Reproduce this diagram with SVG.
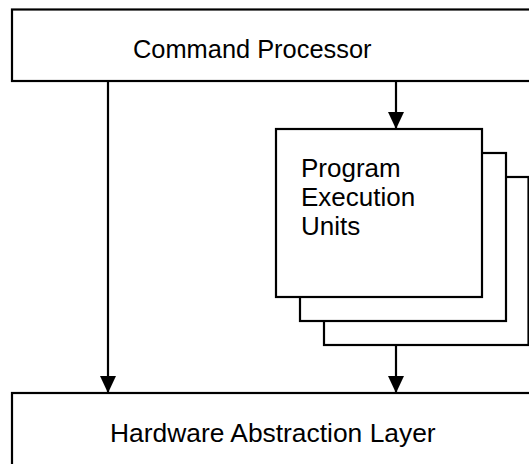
<svg xmlns="http://www.w3.org/2000/svg" width="529" height="464" viewBox="0 0 529 464">
<style>
.box{fill:#fff;stroke:#000;stroke-width:2.2}
.t{font-family:"Liberation Sans",Arial,sans-serif;font-size:26px;fill:#000}
.c{stroke:#000;stroke-width:2.2;fill:none}
</style>
<defs>
<marker id="ah" markerWidth="17" markerHeight="16" refX="17" refY="8" orient="auto" markerUnits="userSpaceOnUse" viewBox="0 0 17 16">
<path d="M0,0 L17,8 L0,16 Z" fill="#000"/>
</marker>
</defs>
<rect width="529" height="464" fill="#fff"/>
<g id="cmd">
<rect class="box" x="12" y="9.5" width="530" height="71.5"/>
<text class="t" x="133" y="58" style="font-size:25.4px">Command Processor</text>
</g>
<g id="peu">
<rect class="box" x="324" y="177" width="204.5" height="168"/>
<rect class="box" x="300" y="153" width="206" height="168"/>
<rect class="box" x="276" y="129" width="206" height="168"/>
<text class="t" x="301" y="176.5">Program</text>
<text class="t" x="301" y="206">Execution</text>
<text class="t" x="301" y="235">Units</text>
</g>
<g id="hal">
<rect class="box" x="12" y="393" width="530" height="80"/>
<text class="t" x="110" y="441.5" style="font-size:26.4px">Hardware Abstraction Layer</text>
</g>
<g id="connectors">
<line class="c" x1="108" y1="81" x2="108" y2="393" marker-end="url(#ah)"/>
<line class="c" x1="396" y1="81" x2="396" y2="129" marker-end="url(#ah)"/>
<line class="c" x1="396" y1="345" x2="396" y2="393" marker-end="url(#ah)"/>
</g>
</svg>
